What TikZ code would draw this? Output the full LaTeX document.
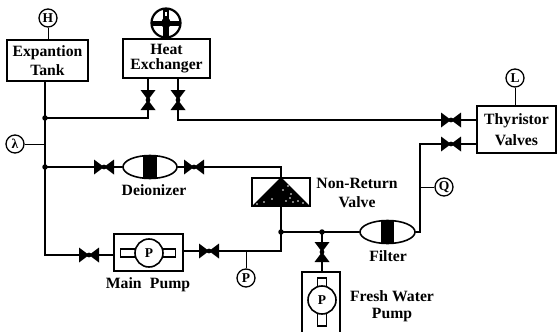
\documentclass[tikz,border=0pt]{standalone}
\usepackage{fontspec}
\setmainfont{Liberation Serif}
\usetikzlibrary{shapes.geometric,calc}
\tikzset{
  x=1pt,y=-1pt,
  pipe/.style={line width=1.9pt,line cap=round,line join=miter},
  leader/.style={line width=1pt},
  box/.style={draw,line width=1.8pt,fill=white,inner sep=0pt,align=center,font=\bfseries\fontsize{15.7}{19}\selectfont},
  label/.style={inner sep=0pt,align=center,font=\bfseries\fontsize{15.7}{19}\selectfont},
  gauge/.style={draw,circle,line width=1.3pt,fill=white,minimum size=18pt,inner sep=0pt,font=\bfseries\fontsize{13.5}{13.5}\selectfont},
  junction/.style={circle,fill=black,minimum size=5.5pt,inner sep=0pt},
  valveh/.style={minimum width=20pt,minimum height=15pt,inner sep=0pt,path picture={
    \fill (path picture bounding box.north west) -- (path picture bounding box.south east) -- (path picture bounding box.north east) -- (path picture bounding box.south west) -- cycle;
    \fill (path picture bounding box.center) circle (2.4pt);}},
  valvev/.style={minimum width=15pt,minimum height=20pt,inner sep=0pt,path picture={
    \fill (path picture bounding box.north west) -- (path picture bounding box.south east) -- (path picture bounding box.south west) -- (path picture bounding box.north east) -- cycle;
    \fill (path picture bounding box.center) circle (2.4pt);}},
  vessel/.style={draw,ellipse,line width=1.6pt,fill=white,inner sep=0pt,minimum height=23pt},
  bar/.style={fill=black,inner sep=0pt},
  motor/.style={draw,circle,line width=1.6pt,fill=white,minimum size=28pt,inner sep=0pt,font=\bfseries\fontsize{13.5}{13.5}\selectfont},
  stub/.style={draw,line width=1.5pt,fill=white,inner sep=0pt},
}
\begin{document}
\begin{tikzpicture}
\useasboundingbox (0,0) rectangle (557,332);
% boxes
\node[box,minimum width=81pt,minimum height=41pt] (tank) at (47.5,60.5) {Expantion\\Tank};
\node[box,minimum width=87pt,minimum height=39pt] (hx) at (166.5,58.5) {Heat\\[-3.5pt]Exchanger};
\node[box,minimum width=79pt,minimum height=47pt] (thy) at (516.5,129.5) {Thyristor\\[2pt]Valves};
\node[box,minimum width=69pt,minimum height=37pt] (mp) at (148.5,252.5) {};
\coordinate (fpTL) at (302,272);
\coordinate (fpTR) at (340,272);
\coordinate (fpBL) at (302,332);
\coordinate (fpBR) at (340,332);
\draw[line width=1.8pt] (fpBL) -- (fpTL) -- (fpTR) -- (fpBR);
% gauges
\node[gauge] (gH) at (48,18) {H};
\node[gauge] (gL) at (515,78) {L};
\node[gauge] (gl) at (15,144) {λ};
\node[gauge] (gQ) at (444,187) {Q};
\node[gauge] (gP) at (246,278) {P};
\node[draw,circle,line width=2.2pt,minimum size=29pt,inner sep=0pt] (fan) at (166,23) {};
\fill (fan.center) ++(-14,-2.5) rectangle ++(28,5);
\fill (fan.center) ++(-3,-14) rectangle ++(6,28);
\fill (fan.center) circle (5);
\fill[white] (fan.center) ++(-1,-11) rectangle ++(1.5,4);
% valves
\node[valvev] (v1) at (148,100) {};
\node[valvev] (v2) at (178,100) {};
\node[valveh] (v3) at (451,120) {};
\node[valveh] (v4) at (451,144) {};
\node[valveh] (v5) at (104,167) {};
\node[valveh] (v6) at (194,167) {};
\node[valveh] (v7) at (89,255) {};
\node[valveh] (v8) at (209,251) {};
\node[valvev] (v9) at (322,252) {};
% junctions
\coordinate (a) at (45,118);
\coordinate (b) at (45,167);
\coordinate (c) at (45,144);
\coordinate (d) at (281,232);
\coordinate (e) at (322,232);
\coordinate (f) at (420,187);
\coordinate (g) at (246,251);
% vessels
\node[vessel,minimum width=54pt] (dei) at (150,167) {};
\node[vessel,minimum width=55pt] (fil) at (387.5,232) {};
\node[bar,minimum width=14pt,minimum height=23pt] (deibar) at (150,167) {};
\node[bar,minimum width=13pt,minimum height=23pt] (filbar) at (387.5,232) {};
% non-return valve
\node[draw,line width=1.8pt,minimum width=58pt,minimum height=28pt,inner sep=0pt,fill=white] (nrv) at (281,192) {};
\fill (nrv.north) -- (nrv.south east) -- (nrv.south west) -- cycle;
\foreach \p in {(283,190),(288,186),(291,194),(286,201),(293,202),(298,201),(303,203),(264,202),(272,199),(257,204),(290,198)}
  \fill[white] \p circle (0.8);
% pipes
\draw[pipe] (tank.south -| a) -- (b) -- (45,255) -- (v7.west);
\draw[pipe] (a) -- (148,118) -- (v1.south);
\draw[pipe] (v1.north) -- (148,78);
\draw[pipe] (v2.north) -- (178,78);
\draw[pipe] (v2.south) -- (178,120) -- (v3.west);
\draw[pipe] (v3.east) -- (thy.west |- v3);
\draw[pipe] (v4.east) -- (thy.west |- v4);
\draw[pipe] (v4.west) -- (420,144) -- (420,232) -- (fil.east);
\draw[pipe] (b) -- (v5.west);
\draw[pipe] (v5.east) -- (dei.west);
\draw[pipe] (dei.east) -- (v6.west);
\draw[pipe] (v6.east) -- (281,167) -- (nrv.north);
\draw[pipe] (nrv.south) -- (d) -- (281,251) -- (v8.east);
\draw[pipe] (v8.west) -- (mp.east |- v8);
\draw[pipe] (v7.east) -- (mp.west |- v7);
\draw[pipe] (d) -- (fil.west);
\draw[pipe] (e) -- (v9.north);
\draw[pipe] (v9.south) -- (322,272);
% leaders
\draw[leader] (gH) -- (tank.north -| gH);
\draw[leader] (gL) -- (thy.north -| gL);
\draw[leader] (gl) -- (c);
\draw[leader] (gQ) -- (f);
\draw[leader] (gP) -- (g);
% junction dots
\node[junction] at (a) {};
\node[junction] at (b) {};
\node[junction] at (d) {};
\node[junction] at (e) {};
% main pump
\node[stub,minimum width=55pt,minimum height=8pt] (mps) at (148,253) {};
\node[motor] (mpm) at (149,253) {P};
% fresh water pump
\node[stub,minimum width=9pt,minimum height=48pt] (fps) at (322,302) {};
\node[motor] (fpm) at (322,300) {P};
% labels
\node[label] (t1) at (154,190) {Deionizer};
\node[label] (t2) at (148,285) {Main\; Pump};
\node[label] (t3) at (357,192.5) {Non-Return\\Valve};
\node[label] (t4) at (388,256) {Filter};
\node[label] (t5) at (392,306.5) {Fresh Water\\[-2pt]Pump};
\end{tikzpicture}
\end{document}
